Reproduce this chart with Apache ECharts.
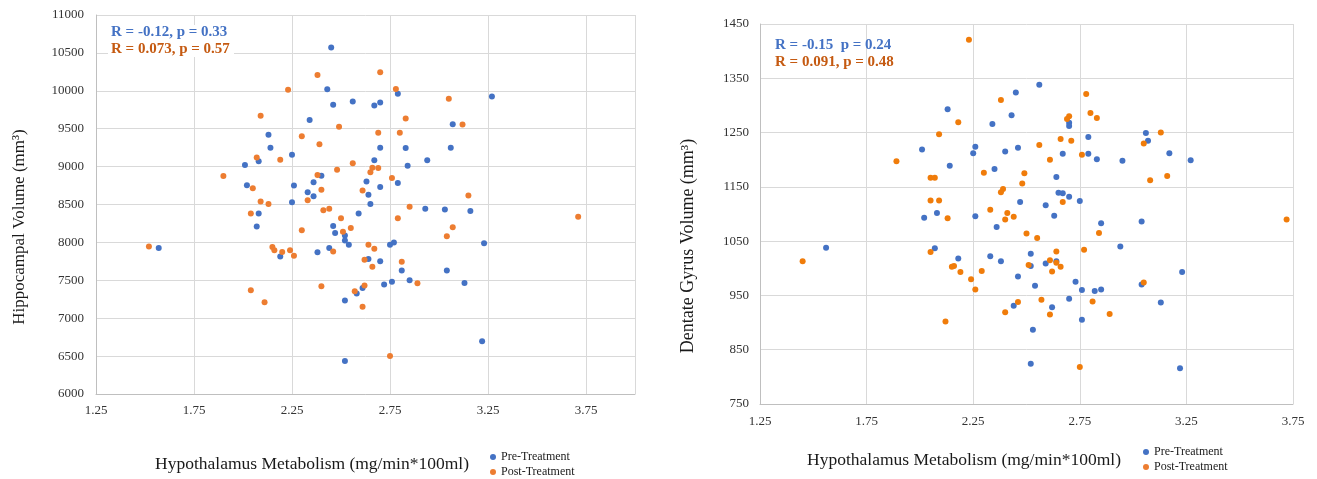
<!DOCTYPE html>
<html>
<head>
<meta charset="utf-8">
<script src="https://cdn.jsdelivr.net/npm/echarts@6/dist/echarts.min.js"></script>
<style>
  html, body { margin: 0; padding: 0; background: #fff; }
  #main { width: 1317px; height: 479px; }
</style>
</head>
<body>
<div id="main"></div>
<script>
'use strict';

// left panel: hippocampal volume vs hypothalamus metabolism
var hippoPreX = [2.45, 2.43, 2.79, 3.27, 2.46, 2.56, 2.67, 2.70, 2.34, 3.07, 2.13, 2.14, 2.70, 2.83, 3.06, 2.25,
  2.01, 2.08, 2.67, 2.84, 2.94, 2.40, 2.02, 2.26, 2.36, 2.33, 2.36, 2.63, 2.64, 2.70, 2.79, 2.65,
  2.25, 2.08, 2.59, 2.93, 3.03, 3.16, 2.46, 2.07, 2.47, 2.52, 2.52, 2.54, 2.44, 2.38, 1.57, 2.19,
  2.64, 2.70, 2.75, 2.77, 2.81, 2.76, 2.72, 2.85, 3.04, 3.13, 3.23, 2.61, 2.58, 2.52, 3.22, 2.52];
var hippoPreY = [10570, 10020, 9960, 9925, 9815, 9860, 9805, 9845, 9615, 9560, 9420, 9250, 9250, 9245, 9250, 9155,
  9020, 9070, 9085, 9010, 9085, 8880, 8755, 8750, 8795, 8660, 8610, 8805, 8630, 8730, 8785, 8505,
  8530, 8380, 8380, 8445, 8435, 8415, 8215, 8210, 8125, 8090, 8025, 7970, 7925, 7870, 7925, 7815,
  7780, 7750, 7970, 8000, 7630, 7480, 7445, 7500, 7630, 7465, 7990, 7400, 7325, 7235, 6695, 6435];
var hippoPostX = [2.38, 2.70, 2.23, 2.78, 3.05, 2.09, 2.49, 2.83, 3.12, 2.30, 2.39, 2.69, 2.80, 2.07, 2.19, 1.90,
  2.56, 2.48, 2.38, 2.66, 2.69, 2.65, 2.76, 2.05, 2.40, 2.61, 2.09, 2.13, 2.33, 2.41, 2.44, 2.85,
  3.15, 2.04, 2.50, 2.79, 3.71, 3.07, 2.30, 2.51, 2.55, 3.04, 1.52, 2.15, 2.16, 2.24, 2.26, 2.20,
  2.46, 2.64, 2.67, 2.62, 2.66, 2.81, 2.89, 2.40, 2.62, 2.57, 2.04, 2.11, 2.61, 2.75];
var hippoPostY = [10210, 10245, 10015, 10025, 9895, 9670, 9525, 9635, 9555, 9400, 9295, 9445, 9445, 9120, 9090, 8875,
  9045, 8960, 8890, 8985, 8980, 8925, 8850, 8715, 8695, 8685, 8540, 8505, 8555, 8425, 8445, 8470,
  8620, 8380, 8320, 8320, 8340, 8200, 8160, 8140, 8190, 8080, 7945, 7940, 7895, 7895, 7825, 7875,
  7880, 7970, 7915, 7770, 7680, 7745, 7460, 7420, 7430, 7355, 7370, 7210, 7150, 6500];

// right panel: dentate gyrus volume vs hypothalamus metabolism
var dgPreX = [2.56, 2.45, 2.13, 2.43, 2.34, 2.70, 2.70, 3.06, 3.07, 2.79, 2.26, 2.01, 2.46, 2.25, 2.40, 2.67,
  2.79, 3.17, 2.83, 2.95, 3.27, 2.14, 2.35, 2.64, 2.65, 2.67, 2.70, 2.47, 2.59, 2.75, 2.08, 2.02,
  2.26, 2.63, 2.36, 2.85, 3.04, 1.56, 2.07, 2.18, 2.33, 2.38, 2.52, 2.59, 2.64, 2.52, 2.94, 2.46,
  2.54, 2.73, 2.76, 2.82, 2.85, 3.04, 3.23, 2.70, 3.13, 2.44, 2.62, 2.76, 2.53, 2.52, 3.22];
var dgPreY = [1338, 1324, 1293, 1282, 1266, 1268, 1262, 1249, 1235, 1242, 1224, 1219, 1222, 1212, 1215, 1211,
  1211, 1212, 1201, 1198, 1199, 1189, 1183, 1168, 1139, 1138, 1132, 1122, 1116, 1124, 1102, 1093,
  1096, 1097, 1076, 1083, 1086, 1038, 1037, 1018, 1022, 1013, 1027, 1009, 1013, 1004, 1040, 985,
  968, 975, 960, 958, 961, 970, 993, 944, 937, 931, 928, 905, 887, 824, 816];
var dgPostX = [2.23, 2.78, 2.38, 2.80, 2.70, 2.69, 2.83, 2.18, 3.13, 2.09, 2.66, 2.71, 3.05, 2.56, 2.76, 1.89,
  2.61, 2.30, 2.49, 3.16, 2.05, 2.07, 3.08, 2.48, 2.39, 2.38, 2.05, 2.09, 2.67, 2.33, 2.41, 2.44,
  2.40, 2.13, 3.72, 2.50, 2.55, 2.84, 2.05, 2.64, 2.77, 1.45, 2.61, 2.64, 2.51, 2.16, 2.15, 2.66,
  2.19, 2.29, 2.62, 2.24, 2.26, 3.05, 2.57, 2.46, 2.81, 2.40, 2.61, 2.89, 2.12, 2.75];
var dgPostY = [1421, 1321, 1310, 1286, 1280, 1275, 1277, 1269, 1250, 1247, 1238, 1235, 1230, 1227, 1209, 1197,
  1200, 1176, 1175, 1170, 1167, 1167, 1162, 1156, 1146, 1140, 1125, 1125, 1122, 1108, 1102, 1095,
  1090, 1092, 1090, 1064, 1056, 1065, 1030, 1031, 1034, 1013, 1015, 1010, 1006, 1004, 1003, 1003,
  993, 995, 994, 980, 961, 974, 942, 938, 939, 919, 915, 916, 902, 818];

var seriesNames = ['Pre-Treatment', 'Post-Treatment'];
var statsLeft = ['R = -0.12, p = 0.33', 'R = 0.073, p = 0.57'];
var statsRight = ['R = -0.15  p = 0.24', 'R = 0.091, p = 0.48'];

function zip(xs, ys) {
  return xs.map(function (x, i) { return [x, ys[i]]; });
}

var serif = '"Liberation Serif", "DejaVu Serif", serif';
var blue = '#4472C4';
var orange = '#ED7D31';
var gridColor = '#D9D9D9';

function xAxisOpt(idx, max, margin) {
  return {
    type: 'value', gridIndex: idx, min: 1.25, max: max, interval: 0.5,
    axisLine: { show: true, lineStyle: { color: '#BFBFBF' } },
    axisTick: { show: false },
    splitLine: { show: true, lineStyle: { color: gridColor } },
    axisLabel: {
      color: '#333', fontFamily: serif, fontSize: 13, margin: margin,
      formatter: function (v) { return v > 3.8 ? '' : v.toFixed(2); }
    }
  };
}

function yAxisOpt(idx, min, max, step, margin) {
  return {
    type: 'value', gridIndex: idx, min: min, max: max, interval: step,
    axisLine: { show: true, lineStyle: { color: '#BFBFBF' } },
    axisTick: { show: false },
    splitLine: { show: true, lineStyle: { color: gridColor } },
    axisLabel: {
      color: '#333', fontFamily: serif, fontSize: 13, margin: margin,
      formatter: function (v) { return String(v); }
    }
  };
}

function legendOpt(left, top) {
  return {
    data: seriesNames, orient: 'vertical', left: left, top: top, padding: 0,
    icon: 'circle', itemWidth: 6, itemHeight: 6, itemGap: 3,
    textStyle: { fontFamily: serif, fontSize: 12, color: '#1a1a1a' },
    selectedMode: false
  };
}

function scatter(name, idx, data, color) {
  return {
    name: name, type: 'scatter', xAxisIndex: idx, yAxisIndex: idx,
    data: data, symbolSize: 6,
    itemStyle: { color: color, opacity: 1 },
    emphasis: { disabled: true }
  };
}

function label(x, y, text, opts) {
  return {
    type: 'text', x: x, y: y, rotation: opts.rotation || 0, z: 20,
    silent: true,
    style: {
      text: text, fill: opts.color || '#1a1a1a', fontFamily: serif,
      fontSize: opts.size, fontWeight: opts.weight || 'normal',
      align: opts.align || 'center', verticalAlign: 'middle'
    }
  };
}

var chart = echarts.init(document.getElementById('main'));

var option = {
  backgroundColor: '#fff',
  animation: false,
  grid: [
    { left: 96, top: 15, width: 539, height: 379 },
    { left: 760, top: 24, width: 533, height: 380 }
  ],
  xAxis: [xAxisOpt(0, 4, 10), xAxisOpt(1, 3.75, 11)],
  yAxis: [yAxisOpt(0, 6000, 11000, 500, 12), yAxisOpt(1, 750, 1450, 100, 11)],
  legend: [legendOpt(490, 451), legendOpt(1143, 446)],
  graphic: [
    // white text box behind the left statistics
    { type: 'rect', z: 19, silent: true, shape: { x: 108, y: 25, width: 126, height: 32 }, style: { fill: '#fff' } },
    label(20, 227, 'Hippocampal Volume (mm³)', { size: 17, rotation: Math.PI / 2 }),
    label(688, 246, 'Dentate Gyrus Volume (mm³)', { size: 18, rotation: Math.PI / 2 }),
    label(312, 464, 'Hypothalamus Metabolism (mg/min*100ml)', { size: 17.5 }),
    label(964, 460, 'Hypothalamus Metabolism (mg/min*100ml)', { size: 17.5 }),
    label(111, 32, statsLeft[0], { size: 15, weight: 'bold', align: 'left', color: '#4472C4' }),
    label(111, 49, statsLeft[1], { size: 15, weight: 'bold', align: 'left', color: '#C55A11' }),
    label(775, 45, statsRight[0], { size: 15, weight: 'bold', align: 'left', color: '#4472C4' }),
    label(775, 62, statsRight[1], { size: 15, weight: 'bold', align: 'left', color: '#C55A11' })
  ],
  series: [
    scatter(seriesNames[0], 0, zip(hippoPreX, hippoPreY), blue),
    scatter(seriesNames[1], 0, zip(hippoPostX, hippoPostY), orange),
    scatter(seriesNames[0], 1, zip(dgPreX, dgPreY), blue),
    scatter(seriesNames[1], 1, zip(dgPostX, dgPostY), '#F07C0A')
  ]
};

chart.setOption(option);
</script>
</body>
</html>
